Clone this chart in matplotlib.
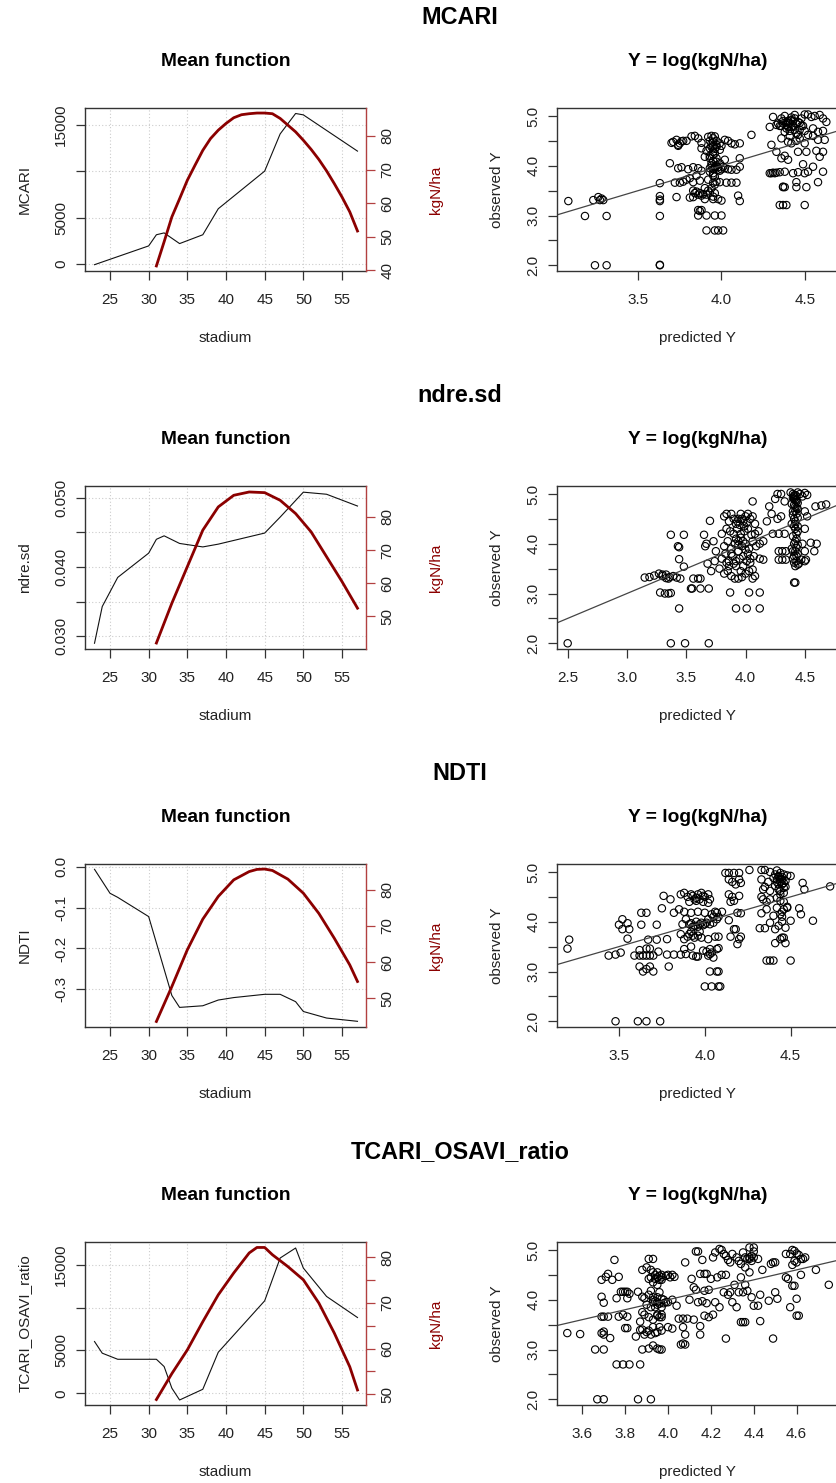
import matplotlib
matplotlib.use("Agg")
import matplotlib.pyplot as plt

plt.rcParams['font.family'] = ['Liberation Sans', 'DejaVu Sans']

# ---- data ----
indices = ["MCARI", "ndre.sd", "NDTI", "TCARI_OSAVI_ratio"]

# mean function of each index over stadium (black line)
mcari_st = [23, 30, 31, 32, 34, 37, 39, 45, 47, 49, 50, 57]
mcari_mean = [-70, 1950, 3150, 3350, 2200, 3150, 5950, 10000, 14000, 16200, 16050, 12150]
ndre_st = [23, 24, 26, 30, 31, 32, 34, 37, 39, 45, 47, 50, 53, 57]
ndre_mean = [0.0290, 0.0343, 0.0385, 0.0420, 0.0440, 0.0445, 0.0434, 0.0429, 0.0433,
             0.0449, 0.0472, 0.0508, 0.0505, 0.0488]
ndti_st = [23, 25, 26, 30, 33, 34, 37, 39, 41, 45, 47, 49, 50, 53, 57]
ndti_mean = [-0.0065, -0.065, -0.075, -0.122, -0.315, -0.344, -0.340, -0.326, -0.320,
             -0.312, -0.312, -0.330, -0.354, -0.370, -0.378]
tcari_st = [23, 24, 26, 31, 32, 33, 34, 37, 39, 45, 47, 49, 50, 53, 57]
tcari_mean = [6040, 4680, 3970, 3970, 3120, 600, -780, 470, 4790, 10790, 15780, 16950,
              14610, 11300, 8840]

# kgN/ha mean function (red line)
mcari_kg_st = list(range(31, 58))
mcari_kg = [41.3, 48.5, 55.9, 61.3, 66.8, 71.3, 75.7, 79.2, 81.7, 83.7, 85.4, 86.3, 86.6,
            86.8, 86.8, 86.6, 85.2, 83.2, 81.2, 78.7, 76.0, 73.0, 69.6, 65.8, 61.8, 57.4, 51.7]
ndre_kg_st = [31, 33, 35, 37, 39, 41, 43, 45, 47, 49, 51, 53, 55, 57]
ndre_kg = [42.0, 54.0, 65.0, 76.0, 83.0, 86.5, 87.5, 87.3, 85.0, 81.0, 75.5, 68.0, 60.5, 52.5]
ndti_kg_st = [31, 33, 35, 37, 39, 41, 43, 44, 45, 46, 48, 50, 52, 54, 56, 57]
ndti_kg = [43.5, 53.2, 63.4, 71.9, 78.2, 82.8, 85.1, 85.7, 85.8, 85.4, 83.0, 79.1, 73.5,
           66.6, 59.2, 54.6]
tcari_kg_st = [31, 33, 35, 37, 39, 41, 43, 44, 45, 46, 48, 50, 52, 54, 56, 57]
tcari_kg = [48.8, 54.5, 59.7, 65.9, 71.8, 76.6, 81.0, 82.2, 82.2, 80.6, 78.0, 75.1, 70.0,
            63.4, 56.0, 50.9]

# predicted vs observed log(kgN/ha)
mcari_pts = [
    (3.08, 3.29), (3.18, 2.99), (3.23, 3.31), (3.26, 3.37), (3.27, 3.31), (3.29, 3.31),
    (3.28, 3.34), (3.31, 2.99), (3.24, 2.00), (3.31, 2.00), (3.63, 2.00), (3.63, 2.01),
    (3.63, 3.65), (3.63, 3.39), (3.63, 3.32), (3.63, 3.29), (3.63, 2.99),
    (3.70, 4.46), (3.73, 4.52), (3.74, 4.42), (3.76, 4.49), (3.79, 4.50), (3.82, 4.59),
    (3.84, 4.60), (3.86, 4.55), (3.88, 4.46), (3.92, 4.58), (3.94, 4.60), (3.95, 4.55),
    (3.96, 4.59), (3.97, 4.50), (3.99, 4.45), (4.02, 4.52), (4.04, 4.50), (4.06, 4.45),
    (4.08, 4.43), (4.11, 4.45), (3.74, 4.40), (3.88, 4.35), (3.91, 4.30), (3.93, 4.35),
    (3.95, 4.28), (3.97, 4.38), (3.99, 4.32), (4.00, 4.40), (3.69, 4.05), (3.90, 4.18),
    (3.93, 4.20), (3.95, 4.10), (3.97, 4.15), (3.99, 4.05), (4.02, 4.12), (4.11, 4.15),
    (3.74, 3.95), (3.76, 3.97), (3.80, 3.93), (3.83, 3.97), (3.86, 3.95), (3.88, 3.90),
    (3.93, 3.95), (3.95, 3.93), (3.96, 3.98), (3.97, 4.00), (3.98, 3.92), (4.00, 3.93),
    (4.02, 3.95), (4.04, 3.93), (4.06, 3.92), (4.09, 3.92), (4.11, 3.98),
    (3.72, 3.66), (3.75, 3.66), (3.77, 3.68), (3.79, 3.72), (3.81, 3.75), (3.83, 3.67),
    (3.85, 3.80), (3.87, 3.70), (3.95, 3.66), (3.97, 3.68), (3.99, 3.67), (4.03, 3.66),
    (4.06, 3.66), (4.09, 3.66), (3.83, 3.50), (3.85, 3.48), (3.87, 3.45), (3.89, 3.43),
    (3.91, 3.42), (3.93, 3.46), (3.73, 3.37), (3.81, 3.36), (3.83, 3.37), (3.90, 3.33),
    (3.95, 3.33), (3.98, 3.33), (4.00, 3.30), (4.10, 3.40), (4.11, 3.29),
    (3.86, 3.11), (3.87, 3.09), (3.88, 3.11), (3.86, 3.00), (3.91, 3.00), (3.96, 3.00),
    (4.00, 3.00), (3.91, 2.70), (3.96, 2.70), (3.98, 2.70), (4.01, 2.70), (4.18, 4.62),
    (3.94, 4.45), (3.95, 4.40), (3.96, 4.25), (3.94, 4.05), (3.95, 3.85), (3.96, 3.78),
    (3.94, 3.55), (3.96, 3.45), (3.95, 3.38),
    (3.93, 4.50), (3.95, 4.48), (3.97, 4.42), (3.94, 4.38), (3.96, 4.34), (3.93, 4.15),
    (3.95, 4.22), (3.97, 4.08), (3.94, 4.00), (3.96, 3.95), (3.98, 3.97), (3.93, 3.88),
    (3.95, 3.80), (3.92, 3.72), (3.96, 3.62), (3.90, 3.55), (3.92, 3.50), (3.88, 3.40),
    (3.86, 3.42), (3.84, 3.45), (3.99, 3.90), (4.01, 3.98), (3.75, 4.45), (3.77, 4.50),
    (3.71, 4.48),
    (4.31, 4.98), (4.34, 4.85), (4.36, 4.95), (4.38, 5.00), (4.40, 4.90), (4.42, 4.97),
    (4.44, 5.02), (4.46, 4.88), (4.48, 4.95), (4.50, 5.03), (4.52, 5.03), (4.54, 4.98),
    (4.56, 5.00), (4.59, 5.02), (4.61, 4.95), (4.63, 4.88), (4.29, 4.78), (4.33, 4.82),
    (4.35, 4.80), (4.37, 4.85), (4.39, 4.75), (4.41, 4.70), (4.43, 4.80), (4.45, 4.65),
    (4.47, 4.72), (4.49, 4.80), (4.52, 4.62), (4.55, 4.75), (4.58, 4.68), (4.61, 4.70),
    (4.30, 4.42), (4.36, 4.55), (4.40, 4.48), (4.42, 4.45), (4.45, 4.50), (4.47, 4.55),
    (4.50, 4.45), (4.55, 4.60), (4.58, 4.52), (4.62, 4.52), (4.33, 4.28), (4.36, 4.15),
    (4.38, 4.20), (4.40, 4.12), (4.46, 4.28), (4.49, 4.03), (4.51, 4.28), (4.57, 4.30),
    (4.59, 4.18), (4.61, 4.28), (4.29, 3.85), (4.30, 3.85), (4.32, 3.85), (4.35, 3.87),
    (4.38, 3.88), (4.43, 3.85), (4.46, 3.87), (4.50, 3.85), (4.52, 3.88), (4.55, 3.98),
    (4.61, 3.88), (4.37, 3.57), (4.38, 3.57), (4.45, 3.57), (4.45, 3.67), (4.51, 3.57),
    (4.58, 3.67), (4.35, 3.21), (4.37, 3.21), (4.39, 3.21), (4.50, 3.21), (4.40, 4.85),
    (4.42, 4.78), (4.44, 4.72), (4.46, 4.62), (4.38, 4.68), (4.41, 4.60),
    (4.37, 4.90), (4.39, 4.88), (4.41, 4.86), (4.43, 4.90), (4.45, 4.84), (4.39, 4.82),
    (4.42, 4.92), (4.44, 4.95), (4.47, 4.86), (4.36, 4.80), (4.40, 4.78), (4.48, 4.80),
    (4.50, 4.70), (4.31, 3.86), (4.33, 3.86), (4.37, 3.58),
]
ndre_pts = [
    (2.50, 2.00), (3.37, 2.00), (3.49, 2.00), (3.69, 2.00), (3.15, 3.32),
    (3.19, 3.33), (3.23, 3.36), (3.27, 3.40), (3.30, 3.38), (3.33, 3.31), (3.36, 3.33),
    (3.39, 3.35), (3.42, 3.32), (3.45, 3.30), (3.28, 3.02), (3.32, 3.00), (3.35, 3.00),
    (3.37, 3.01), (3.44, 2.70), (3.37, 4.18), (3.48, 4.18), (3.43, 3.95), (3.44, 3.93),
    (3.44, 3.69), (3.48, 3.54), (3.54, 3.10), (3.55, 3.10), (3.56, 3.30), (3.60, 3.30),
    (3.62, 3.10), (3.69, 3.10), (3.62, 3.30), (3.65, 4.18), (3.67, 4.00), (3.70, 4.46),
    (3.73, 4.05), (3.75, 3.85), (3.66, 3.95), (3.68, 3.60), (3.71, 3.45), (3.74, 3.65),
    (3.78, 3.50), (3.80, 4.20), (3.82, 4.55), (3.84, 4.60), (3.86, 4.45), (3.88, 4.60),
    (3.90, 4.50), (3.92, 4.40), (3.94, 4.50), (3.96, 4.60), (3.98, 4.45), (4.00, 4.55),
    (4.02, 4.60), (4.04, 4.50), (4.06, 4.55), (4.08, 4.40), (3.84, 4.30), (3.87, 4.25),
    (3.90, 4.20), (3.93, 4.30), (3.96, 4.20), (3.99, 4.25), (4.02, 4.30), (4.05, 4.18),
    (4.08, 4.20), (4.11, 4.25), (3.82, 3.95), (3.85, 4.05), (3.88, 3.90), (3.91, 4.00),
    (3.94, 4.05), (3.97, 3.95), (4.00, 4.00), (4.03, 3.90), (4.06, 4.05), (4.09, 3.95),
    (4.12, 4.00), (4.15, 4.05), (3.80, 3.70), (3.83, 3.80), (3.86, 3.65), (3.89, 3.75),
    (3.92, 3.65), (3.95, 3.70), (3.98, 3.75), (4.01, 3.65), (4.04, 3.70), (4.07, 3.75),
    (4.12, 3.70), (4.15, 3.68), (3.82, 3.40), (3.85, 3.45), (3.88, 3.35), (3.91, 3.30),
    (3.94, 3.30), (3.97, 3.33), (4.00, 3.40), (4.03, 3.45), (4.06, 3.30), (4.08, 3.35),
    (3.87, 3.02), (4.03, 3.02), (4.12, 3.02), (3.92, 2.70), (4.01, 2.70), (4.12, 2.70),
    (4.06, 4.85), (4.20, 4.75), (4.22, 4.60), (4.18, 4.45), (4.25, 4.90), (4.27, 5.00),
    (4.30, 5.00), (4.33, 4.85), (4.27, 4.50), (4.30, 4.55), (4.23, 4.20), (4.28, 4.20),
    (4.33, 4.20), (4.28, 3.85), (4.31, 3.85), (4.34, 3.85), (4.28, 3.68), (4.31, 3.68),
    (4.34, 3.68), (4.38, 5.03), (4.40, 5.00), (4.42, 4.98), (4.44, 5.03), (4.46, 5.00),
    (4.41, 4.90), (4.43, 4.85), (4.39, 4.80), (4.42, 4.75), (4.44, 4.70), (4.40, 4.65),
    (4.43, 4.60), (4.41, 4.50), (4.39, 4.40), (4.42, 4.30), (4.44, 4.25), (4.40, 4.15),
    (4.43, 4.10), (4.41, 4.00), (4.39, 3.90), (4.42, 3.85), (4.44, 3.80), (4.40, 3.70),
    (4.43, 3.65), (4.45, 3.60), (4.42, 3.55), (4.41, 3.22), (4.42, 3.22), (4.50, 5.02),
    (4.52, 4.98), (4.48, 4.95), (4.50, 4.65), (4.52, 4.55), (4.50, 4.30), (4.48, 4.00),
    (4.50, 3.85), (4.50, 3.65), (4.55, 4.02), (4.60, 4.00), (4.58, 3.85), (4.59, 4.75),
    (4.64, 4.77), (4.68, 4.79), (4.47, 3.68), (4.51, 3.68), (4.41, 4.95), (4.43, 4.88),
    (4.42, 4.45), (4.44, 4.35), (4.41, 3.75), (4.43, 3.92),
    (4.41, 4.97), (4.43, 4.95), (4.40, 4.92), (4.42, 4.88), (4.44, 4.82), (4.41, 4.78),
    (4.43, 4.72), (4.42, 4.66), (4.40, 4.58), (4.44, 4.52), (4.42, 4.40), (4.41, 4.35),
    (4.43, 4.20), (4.42, 4.05), (4.44, 3.98), (4.40, 3.85), (4.43, 3.75), (4.41, 3.62),
    (4.44, 3.58), (3.93, 4.45), (3.95, 4.38), (3.97, 4.50), (3.99, 4.35), (4.01, 4.42),
    (3.92, 4.10), (3.94, 3.98), (3.96, 4.12), (3.98, 4.05), (4.00, 3.88), (4.02, 3.80),
    (3.94, 3.85), (3.90, 3.60), (3.92, 3.55), (3.96, 3.45), (3.98, 3.55), (4.04, 3.62),
    (4.06, 3.48), (3.86, 3.55), (3.84, 3.62), (3.88, 3.80), (3.30, 3.35), (3.33, 3.38),
    (3.35, 3.30),
]
ndti_pts = [
    (3.20, 3.46), (3.21, 3.64), (3.48, 2.00), (3.61, 2.00), (3.66, 2.00), (3.74, 2.00),
    (3.44, 3.32), (3.48, 3.34), (3.51, 3.38), (3.52, 4.05), (3.50, 3.94), (3.52, 3.85),
    (3.55, 3.97), (3.56, 3.85), (3.55, 3.66), (3.59, 3.32), (3.62, 3.32), (3.64, 3.32),
    (3.66, 3.32), (3.68, 3.32), (3.70, 3.32), (3.62, 3.43), (3.66, 3.46), (3.68, 3.46),
    (3.62, 3.10), (3.64, 3.00), (3.66, 3.05), (3.68, 3.10), (3.70, 3.00), (3.63, 4.18),
    (3.66, 4.18), (3.63, 3.94), (3.67, 3.64), (3.72, 3.94), (3.72, 3.64), (3.73, 3.40),
    (3.76, 4.52), (3.80, 4.45), (3.75, 4.27), (3.78, 3.34), (3.79, 3.10), (3.78, 3.65),
    (3.82, 3.34), (3.86, 3.34), (3.82, 4.18),
    (3.86, 4.55), (3.88, 4.58), (3.90, 4.50), (3.92, 4.55), (3.94, 4.45), (3.96, 4.55),
    (3.98, 4.58), (4.00, 4.50), (4.02, 4.55), (4.03, 4.45), (3.91, 4.40), (3.95, 4.42),
    (3.99, 4.40), (4.02, 4.38), (3.85, 4.25), (3.88, 4.20), (3.92, 4.18), (3.96, 4.20),
    (4.00, 4.18), (3.87, 3.95), (3.89, 4.05), (3.91, 3.95), (3.93, 3.90), (3.95, 4.00),
    (3.97, 3.95), (3.99, 3.93), (4.01, 3.98), (4.03, 3.95), (3.86, 3.75), (3.88, 3.65),
    (3.90, 3.70), (3.92, 3.80), (3.94, 3.68), (3.96, 3.72), (3.98, 3.68), (4.02, 3.65),
    (3.88, 3.45), (3.92, 3.50), (3.95, 3.30), (3.96, 3.30), (3.99, 3.42), (4.01, 3.40),
    (4.03, 3.45), (4.03, 3.35), (4.05, 3.28), (4.07, 3.45), (4.08, 3.47),
    (4.02, 4.05), (4.04, 4.15), (4.06, 4.20), (4.08, 4.10), (4.10, 4.20), (4.05, 3.98),
    (4.07, 4.05), (4.06, 3.70), (4.08, 3.70), (4.00, 2.70), (4.04, 2.70), (4.08, 2.70),
    (4.09, 2.70), (4.03, 3.00), (4.07, 3.00), (4.08, 3.00),
    (4.12, 4.98), (4.14, 4.98), (4.17, 4.98), (4.20, 4.98), (4.14, 4.85), (4.16, 4.80),
    (4.18, 4.75), (4.20, 4.85), (4.21, 4.78), (4.14, 4.55), (4.16, 4.50), (4.20, 4.52),
    (4.15, 4.40), (4.17, 4.42), (4.14, 4.03), (4.19, 4.18), (4.21, 4.17), (4.18, 3.85),
    (4.17, 3.85), (4.15, 3.70), (4.20, 3.65), (4.19, 3.55), (4.21, 3.70), (4.26, 5.04),
    (4.33, 5.04), (4.35, 5.04), (4.38, 5.00), (4.42, 5.03), (4.44, 4.98), (4.46, 4.95),
    (4.48, 4.93), (4.50, 4.92), (4.33, 4.85), (4.35, 4.70), (4.37, 4.80), (4.40, 4.88),
    (4.42, 4.85), (4.44, 4.80), (4.45, 4.75), (4.47, 4.82), (4.46, 4.68), (4.43, 4.65),
    (4.38, 4.62), (4.34, 4.65), (4.33, 4.50), (4.34, 4.45), (4.36, 4.40), (4.38, 4.45),
    (4.42, 4.48), (4.44, 4.42), (4.46, 4.40), (4.48, 4.30), (4.33, 4.17), (4.36, 4.25),
    (4.40, 4.12), (4.42, 4.28), (4.44, 4.15), (4.46, 4.25), (4.48, 4.28), (4.45, 4.10),
    (4.32, 3.87), (4.35, 3.87), (4.38, 3.98), (4.41, 3.85), (4.43, 3.92), (4.45, 4.00),
    (4.47, 3.88), (4.50, 4.02), (4.41, 3.57), (4.44, 3.65), (4.45, 3.68), (4.46, 3.68),
    (4.47, 3.57), (4.36, 3.22), (4.38, 3.22), (4.40, 3.22), (4.50, 3.22), (4.55, 4.27),
    (4.56, 4.15), (4.58, 4.65), (4.57, 4.78), (4.63, 4.02), (4.73, 4.71), (4.43, 4.90),
    (4.45, 4.85), (4.44, 4.55), (4.45, 4.20),
    (4.41, 4.95), (4.43, 4.92), (4.45, 4.90), (4.42, 4.80), (4.44, 4.86), (4.46, 4.78),
    (4.41, 4.72), (4.43, 4.75), (4.47, 4.70), (4.44, 4.62), (4.46, 4.58), (3.93, 4.52),
    (3.95, 4.48), (3.97, 4.45), (3.99, 4.52), (3.92, 3.97), (3.94, 3.92), (3.96, 3.90),
    (3.98, 3.98), (4.00, 3.95), (3.91, 3.75), (3.93, 3.72), (3.97, 3.80), (3.89, 3.35),
    (3.93, 3.32), (4.02, 3.32), (4.04, 3.38), (4.05, 4.10), (4.07, 4.18),
]
tcari_pts = [
    (3.53, 3.33), (3.59, 3.31), (3.66, 3.00), (3.70, 3.00), (3.67, 2.00), (3.70, 2.00),
    (3.86, 2.00), (3.92, 2.00), (3.76, 2.70), (3.79, 2.70), (3.82, 2.70), (3.87, 2.70),
    (3.69, 3.33), (3.70, 3.36), (3.70, 3.30), (3.69, 3.66), (3.70, 3.66), (3.72, 3.66),
    (3.69, 4.06), (3.70, 3.94), (3.69, 4.40), (3.71, 4.46), (3.72, 4.52), (3.74, 4.40),
    (3.75, 4.80), (3.73, 3.23), (3.77, 4.46), (3.76, 4.03), (3.78, 4.16), (3.79, 4.16),
    (3.81, 4.16), (3.81, 4.03), (3.77, 3.66), (3.79, 3.70), (3.81, 3.66), (3.80, 3.43),
    (3.81, 3.43), (3.85, 3.26), (3.87, 3.39), (3.87, 3.56), (3.86, 4.16), (3.88, 4.06),
    (3.91, 4.82), (3.93, 4.82), (3.88, 4.60), (3.90, 4.65), (3.92, 4.60), (3.92, 4.45),
    (3.94, 4.50), (3.95, 4.55), (3.96, 4.40), (3.97, 4.50), (3.93, 4.35), (3.95, 4.30),
    (3.97, 4.45), (3.99, 4.48), (3.91, 4.42), (3.89, 4.03), (3.91, 4.10), (3.93, 4.00),
    (3.95, 4.05), (3.96, 4.15), (3.98, 4.00), (3.92, 4.18), (3.94, 3.97), (3.90, 3.90),
    (3.92, 3.85), (3.93, 3.95), (3.95, 3.90), (3.97, 3.85), (3.98, 3.93), (3.99, 3.95),
    (3.89, 3.70), (3.91, 3.65), (3.93, 3.60), (3.95, 3.68), (3.96, 3.65), (3.97, 3.70),
    (3.88, 3.75), (3.88, 3.40), (3.90, 3.35), (3.92, 3.30), (3.94, 3.33), (3.96, 3.45),
    (3.97, 3.38), (3.89, 3.30), (3.88, 3.00), (3.91, 3.02), (3.93, 3.08), (3.95, 3.02),
    (3.96, 3.00), (3.97, 3.00), (4.00, 4.50), (4.01, 4.45), (4.02, 4.50), (4.03, 4.46),
    (4.00, 3.95), (4.02, 4.00), (4.04, 3.88), (4.05, 3.62), (4.07, 3.62), (4.00, 3.45),
    (4.02, 3.42), (4.06, 3.10), (4.08, 3.10), (4.07, 3.12), (4.07, 3.45), (4.08, 3.30),
    (4.09, 3.62), (4.08, 4.75), (4.11, 4.42), (4.12, 4.25), (4.13, 4.20), (4.10, 4.00),
    (4.12, 3.60), (4.13, 4.97), (4.14, 4.97), (4.16, 4.80), (4.15, 4.52), (4.17, 4.52),
    (4.18, 4.52), (4.20, 4.42), (4.21, 4.85), (4.22, 4.95), (4.24, 5.02), (4.25, 5.00),
    (4.26, 4.92), (4.27, 4.88), (4.28, 4.80), (4.29, 4.75), (4.30, 4.92), (4.23, 4.45),
    (4.25, 4.50), (4.27, 4.50), (4.14, 3.95), (4.16, 3.97), (4.18, 3.93), (4.19, 4.20),
    (4.17, 4.18), (4.22, 3.95), (4.24, 3.85), (4.26, 4.15), (4.28, 4.10), (4.15, 3.47),
    (4.15, 3.30), (4.17, 3.68), (4.19, 3.65), (4.21, 3.70), (4.27, 3.22), (4.29, 4.15),
    (4.30, 3.95), (4.31, 4.30), (4.32, 3.85), (4.32, 4.85), (4.33, 4.78), (4.34, 4.72),
    (4.36, 4.65), (4.37, 4.82), (4.38, 4.85), (4.39, 4.88), (4.40, 4.85), (4.38, 5.05),
    (4.40, 5.05), (4.35, 4.95), (4.34, 4.45), (4.36, 4.30), (4.38, 4.55), (4.33, 4.15),
    (4.35, 4.15), (4.37, 4.18), (4.39, 4.05), (4.40, 3.88), (4.42, 3.88), (4.43, 4.10),
    (4.34, 3.55), (4.35, 3.55), (4.36, 3.55), (4.43, 3.57), (4.42, 4.82), (4.44, 4.60),
    (4.40, 4.97), (4.47, 3.98), (4.48, 4.72), (4.49, 4.75), (4.50, 4.75), (4.51, 4.02),
    (4.49, 3.22), (4.50, 4.15), (4.55, 4.45), (4.56, 4.42), (4.55, 4.92), (4.57, 4.92),
    (4.58, 5.00), (4.59, 4.98), (4.60, 4.93), (4.61, 4.90), (4.62, 4.82), (4.63, 4.82),
    (4.59, 4.78), (4.60, 4.75), (4.58, 4.70), (4.57, 3.85), (4.58, 4.28), (4.59, 4.28),
    (4.60, 4.02), (4.60, 3.68), (4.61, 3.68), (4.62, 4.50), (4.64, 4.85), (4.69, 4.60),
    (4.75, 4.30),
    (3.93, 4.55), (3.95, 4.45), (3.97, 4.40), (3.94, 4.42), (3.96, 4.48), (3.93, 4.05),
    (3.95, 3.95), (3.97, 4.02), (3.94, 3.85), (3.96, 3.92), (3.95, 3.70), (3.97, 3.65),
    (3.93, 3.45), (3.91, 3.38), (3.95, 3.35), (3.80, 4.16), (3.82, 4.12), (4.36, 4.85),
    (4.38, 4.82), (4.39, 4.78),
]

# ---- axis setup per row ----
rows = [
    dict(name=indices[0], st=mcari_st, mean=mcari_mean, kst=mcari_kg_st, kg=mcari_kg,
         pts=mcari_pts, ylim=(-750, 16790), yt=[0, 5000, 10000, 15000],
         ytl=['0', '5000', '', '15000'], klim=(39.8, 88.3), kt=[40, 50, 60, 70, 80],
         ktl=['40', '50', '60', '70', '80'], xlim2=(3.012, 4.70), xt2=[3.5, 4.0, 4.5]),
    dict(name=indices[1], st=ndre_st, mean=ndre_mean, kst=ndre_kg_st, kg=ndre_kg,
         pts=ndre_pts, ylim=(0.02817, 0.05169), yt=[0.030, 0.035, 0.040, 0.045, 0.050],
         ytl=['0.030', '', '0.040', '', '0.050'], klim=(40.2, 89.3), kt=[50, 60, 70, 80],
         ktl=['50', '60', '70', '80'], xlim2=(2.41, 4.78), xt2=[2.5, 3.0, 3.5, 4.0, 4.5]),
    dict(name=indices[2], st=ndti_st, mean=ndti_mean, kst=ndti_kg_st, kg=ndti_kg,
         pts=ndti_pts, ylim=(-0.3919, 0.0065), yt=[0.0, -0.1, -0.2, -0.3],
         ytl=['0.0', '-0.1', '-0.2', '-0.3'], klim=(41.97, 87.2), kt=[50, 60, 70, 80],
         ktl=['50', '60', '70', '80'], xlim2=(3.139, 4.776), xt2=[3.5, 4.0, 4.5]),
    dict(name=indices[3], st=tcari_st, mean=tcari_mean, kst=tcari_kg_st, kg=tcari_kg,
         pts=tcari_pts, ylim=(-1364, 17650), yt=[0, 5000, 10000, 15000],
         ytl=['0', '5000', '', '15000'], klim=(47.6, 83.4),
         kt=[50, 55, 60, 65, 70, 75, 80], ktl=['50', '', '60', '', '70', '', '80'],
         xlim2=(3.482, 4.793), xt2=[3.6, 3.8, 4.0, 4.2, 4.4, 4.6]),
]

W, H = 837, 1483
fig = plt.figure(figsize=(W / 100, H / 100), dpi=100)

FS = 11
TICK_LEN = 6.6
BOX = '#333333'
RED = '#8B0000'
RED_AX = '#B24040'
TXT = '#222222'


def style_axes(ax):
    for s in ax.spines.values():
        s.set_color(BOX)
        s.set_linewidth(1.0)
    ax.tick_params(axis='both', direction='out', length=TICK_LEN, width=0.9,
                   color=BOX, labelsize=FS, labelcolor=TXT)
    ax.tick_params(axis='x', pad=9.5)
    ax.tick_params(axis='y', labelrotation=90, pad=5.5)
    for lab in ax.get_yticklabels():
        lab.set_va('center')


for i, r in enumerate(rows):
    top = 108 + 378 * i
    bottom = top + 163
    y0 = 1 - bottom / H
    hh = 163 / H

    fig.text(460 / W, 1 - (18 + 378 * i) / H, r['name'], ha='center', va='center',
             fontsize=16.8, fontweight='bold')

    # left: mean functions
    ax = fig.add_axes([85 / W, y0, 281 / W, hh])
    ax.set_xlim(21.77, 58.1)
    ax.set_ylim(*r['ylim'])
    ax.set_xticks([25, 30, 35, 40, 45, 50, 55])
    ax.set_yticks(r['yt'])
    ax.set_yticklabels(r['ytl'])
    ax.grid(True, color='#cccccc', linestyle=(0, (1, 2)), linewidth=0.8)
    ax.set_axisbelow(True)
    ax.plot(r['st'], r['mean'], color='#111111', linewidth=0.8)
    style_axes(ax)
    ax.spines['right'].set_visible(False)
    ax.set_xlabel('stadium', fontsize=FS, color=TXT)
    ax.xaxis.set_label_coords(0.5, -0.37)
    ax.set_ylabel(r['name'], fontsize=FS, color=TXT)
    ax.yaxis.set_label_coords(-0.19, 0.5)
    ax.text(0.5, 1.285, 'Mean function', transform=ax.transAxes, ha='center',
            va='center', fontsize=13.8, fontweight='bold')

    ax2 = ax.twinx()
    ax2.set_ylim(*r['klim'])
    ax2.plot(r['kst'], r['kg'], color=RED, linewidth=2.0)
    ax2.set_yticks(r['kt'])
    ax2.set_yticklabels(r['ktl'])
    for s in ['left', 'top', 'bottom']:
        ax2.spines[s].set_visible(False)
    ax2.spines['right'].set_color(RED_AX)
    ax2.spines['right'].set_linewidth(1.0)
    ax2.tick_params(axis='y', direction='out', length=TICK_LEN, width=0.9,
                    color=RED_AX, labelsize=FS, labelcolor=TXT, labelrotation=90,
                    pad=4.0)
    for lab in ax2.get_yticklabels():
        lab.set_va('center')
    ax2.set_ylabel('kgN/ha', fontsize=FS, color=RED)
    ax2.yaxis.set_label_coords(1.225, 0.5)

    # right: observed vs predicted
    bx = fig.add_axes([557 / W, y0, 281 / W, hh])
    px = [p[0] for p in r['pts']]
    py = [p[1] for p in r['pts']]
    bx.scatter(px, py, s=28, facecolors='none', edgecolors='black', linewidths=0.8)
    bx.axline((3.0, 3.0), slope=1, color='#444444', linewidth=0.9)
    bx.set_xlim(*r['xlim2'])
    bx.set_ylim(1.885, 5.16)
    bx.set_xticks(r['xt2'])
    bx.set_xticklabels(['%.1f' % v for v in r['xt2']])
    bx.set_yticks([2.0, 2.5, 3.0, 3.5, 4.0, 4.5, 5.0])
    bx.set_yticklabels(['2.0', '', '3.0', '', '4.0', '', '5.0'])
    style_axes(bx)
    bx.set_xlabel('predicted Y', fontsize=FS, color=TXT)
    bx.xaxis.set_label_coords(0.5, -0.37)
    bx.set_ylabel('observed Y', fontsize=FS, color=TXT)
    bx.yaxis.set_label_coords(-0.19, 0.5)
    bx.text(0.5, 1.285, 'Y = log(kgN/ha)', transform=bx.transAxes, ha='center',
            va='center', fontsize=13.8, fontweight='bold')

fig.savefig('out.png', dpi=100)
